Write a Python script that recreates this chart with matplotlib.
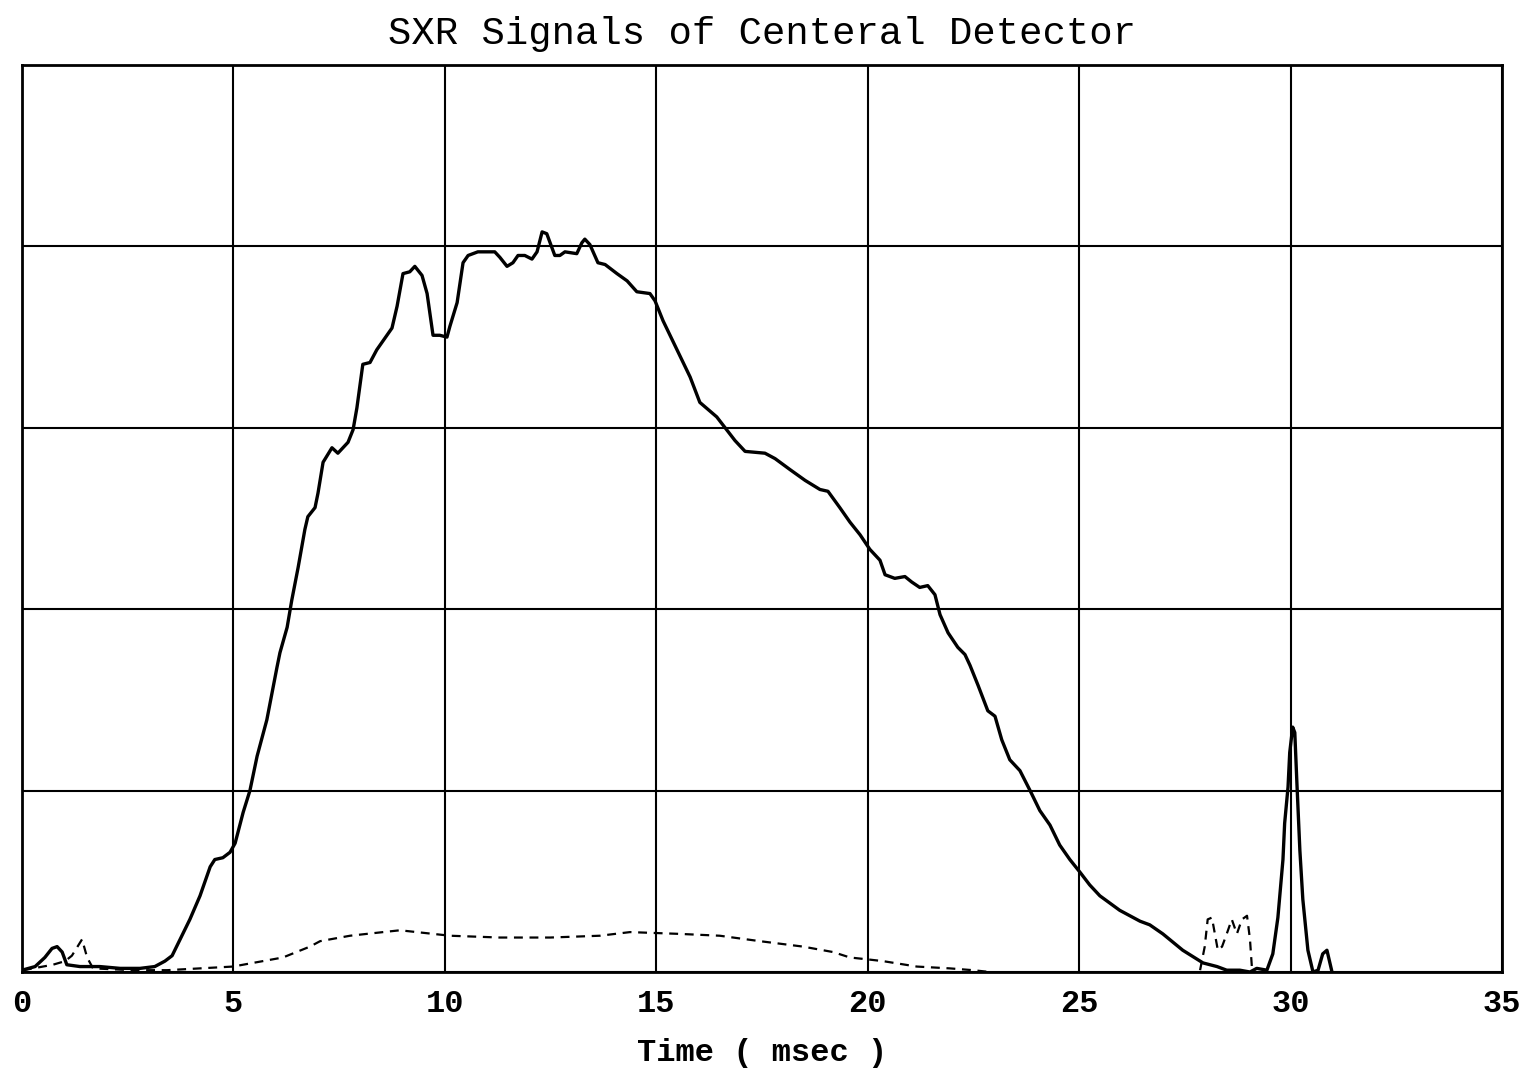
import matplotlib
matplotlib.use("Agg")
import matplotlib.pyplot as plt
import numpy as np

# Solid trace (central detector)
tiempo_solido = [
    0.00, 0.31, 0.54, 0.71, 0.83, 0.95, 1.06, 1.37, 1.84, 2.32, 2.79, 3.14,
    3.38, 3.55, 3.74, 3.97, 4.21, 4.45, 4.56, 4.75, 4.92, 5.04, 5.23, 5.39,
    5.56, 5.79, 6.03, 6.10, 6.27, 6.38, 6.53, 6.69, 6.76, 6.93, 7.00, 7.12,
    7.33, 7.47, 7.71, 7.83, 7.92, 8.06, 8.23, 8.39, 8.54, 8.75, 8.87, 9.01,
    9.17, 9.29, 9.46, 9.58, 9.72, 9.88, 10.05, 10.12, 10.29, 10.43, 10.55,
    10.78, 11.18, 11.30, 11.47, 11.61, 11.73, 11.89, 12.06, 12.18, 12.30,
    12.41, 12.60, 12.72, 12.84, 13.12, 13.24, 13.31, 13.43, 13.62, 13.79,
    14.07, 14.31, 14.54, 14.85, 14.97, 15.16, 15.49, 15.80, 16.03, 16.43,
    16.86, 17.10, 17.57, 17.81, 18.16, 18.52, 18.87, 19.06, 19.34, 19.58,
    19.82, 20.05, 20.29, 20.41, 20.64, 20.88, 21.04, 21.23, 21.42, 21.59,
    21.71, 21.90, 22.13, 22.30, 22.42, 22.61, 22.84, 23.01, 23.17, 23.36,
    23.60, 23.84, 24.07, 24.31, 24.54, 24.78, 25.02, 25.25, 25.49, 25.96,
    26.44, 26.67, 26.98, 27.45, 27.93, 28.26, 28.49, 28.80, 29.04, 29.20,
    29.44, 29.58, 29.70, 29.82, 29.86, 29.94, 29.98, 30.05, 30.10, 30.15,
    30.22, 30.29, 30.41, 30.53, 30.65, 30.76, 30.86, 30.93, 30.98,
]
sinal_solido = [
    0.01, 0.03, 0.08, 0.13, 0.14, 0.11, 0.04, 0.03, 0.03, 0.02, 0.02, 0.03,
    0.06, 0.09, 0.18, 0.29, 0.42, 0.58, 0.62, 0.63, 0.66, 0.71, 0.88, 1.00,
    1.19, 1.39, 1.68, 1.76, 1.90, 2.05, 2.23, 2.44, 2.51, 2.56, 2.64, 2.81,
    2.89, 2.86, 2.92, 2.99, 3.11, 3.35, 3.36, 3.43, 3.48, 3.55, 3.67, 3.85,
    3.86, 3.89, 3.84, 3.74, 3.51, 3.51, 3.50, 3.56, 3.69, 3.91, 3.95,
    3.97, 3.97, 3.94, 3.89, 3.91, 3.95, 3.95, 3.93, 3.97, 4.08,
    4.07, 3.95, 3.95, 3.97, 3.96, 4.02, 4.04, 4.01, 3.91, 3.90,
    3.85, 3.81, 3.75, 3.74, 3.70, 3.59, 3.43, 3.28, 3.14, 3.06,
    2.93, 2.87, 2.86, 2.83, 2.77, 2.71, 2.66, 2.65, 2.56, 2.48,
    2.41, 2.33, 2.27, 2.19, 2.17, 2.18, 2.15, 2.12, 2.13, 2.08,
    1.97, 1.87, 1.79, 1.75, 1.69, 1.58, 1.44, 1.41, 1.28, 1.17,
    1.11, 1.00, 0.89, 0.81, 0.70, 0.62, 0.55, 0.48, 0.42, 0.34,
    0.28, 0.26, 0.21, 0.12, 0.05, 0.03, 0.01, 0.01, 0.00, 0.02,
    0.01, 0.10, 0.30, 0.62, 0.82, 1.02, 1.21, 1.35, 1.32, 1.04,
    0.67, 0.40, 0.12, 0.00, 0.01, 0.10, 0.12, 0.05, 0.00,
]

# Dashed trace (second signal); NaN splits the two pieces
tiempo_tracejado = [
    0.02, 0.26, 0.73, 1.02, 1.18, 1.42, 1.54, 1.68, 2.62, 3.43, 4.99, 5.46,
    6.17, 6.81, 7.05, 7.76, 8.54, 8.94, 10.12, 11.30, 12.49, 13.67, 14.38,
    15.56, 16.50, 17.45, 18.47, 19.18, 19.58, 19.98, 20.36, 21.16, 21.94,
    22.49, 22.89, np.nan,
    27.86, 27.97, 28.04, 28.14, 28.21, 28.28, 28.38, 28.49, 28.61, 28.73,
    28.85, 28.97, 29.04, 29.09,
]
sinal_tracejado = [
    0.01, 0.02, 0.04, 0.06, 0.09, 0.18, 0.08, 0.02, 0.01, 0.01, 0.03, 0.05,
    0.08, 0.14, 0.17, 0.20, 0.22, 0.23, 0.20, 0.19, 0.19, 0.20, 0.22,
    0.21, 0.20, 0.17, 0.14, 0.11, 0.08, 0.07, 0.06, 0.03, 0.02,
    0.01, 0.00, np.nan,
    0.01, 0.14, 0.29, 0.30, 0.21, 0.12, 0.14, 0.21, 0.29, 0.21,
    0.29, 0.31, 0.18, 0.01,
]

fig = plt.figure(figsize=(15.24, 10.73), dpi=100)
ax = fig.add_axes([22 / 1524, 1 - 972 / 1073, 1480 / 1524, 907 / 1073])

ax.plot(tiempo_solido, sinal_solido, color="black", linewidth=2.4)
ax.plot(tiempo_tracejado, sinal_tracejado, color="black", linewidth=1.6,
        linestyle=(0, (4, 3)))

ax.set_xlim(0, 35)
ax.set_ylim(0, 5)
ax.set_xticks(np.arange(0, 36, 5))
ax.set_yticks(np.arange(0, 6, 1))
ax.set_yticklabels([])
ax.grid(True, color="black", linewidth=1.5)
ax.tick_params(length=0, pad=12)
for rotulo in ax.get_xticklabels():
    rotulo.set_fontfamily("Liberation Mono")
    rotulo.set_fontweight("bold")
    rotulo.set_fontsize(23)
for lado in ax.spines.values():
    lado.set_linewidth(2)

ax.set_xlabel("Time ( msec )", fontsize=23, family="Liberation Mono",
              fontweight="bold", labelpad=14)
ax.set_title("SXR Signals of Centeral Detector", fontsize=28,
             family="Liberation Mono", pad=15)

fig.savefig("out.png", dpi=100)
